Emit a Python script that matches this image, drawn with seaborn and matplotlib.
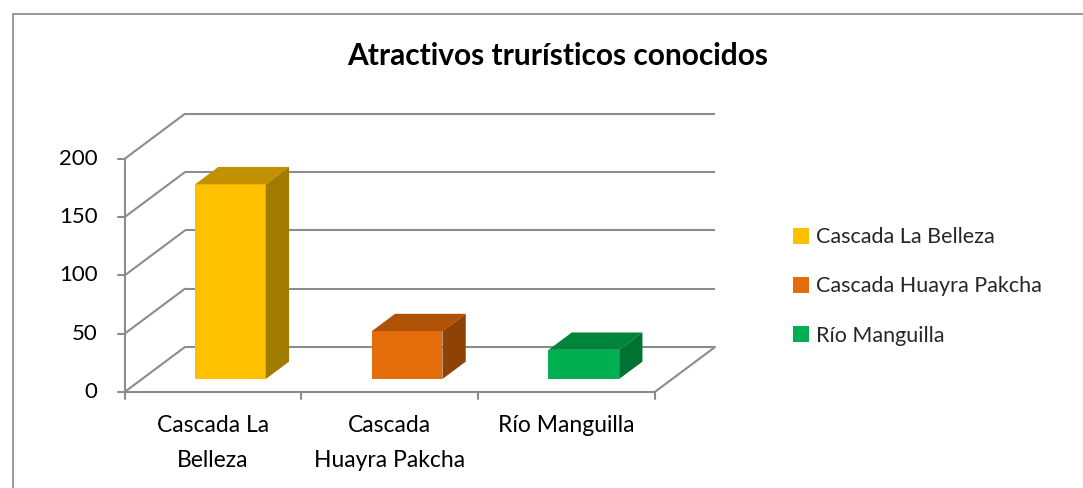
import matplotlib
matplotlib.use("Agg")
import matplotlib.pyplot as plt
from matplotlib.patches import Polygon, Patch, Rectangle
from matplotlib.transforms import Affine2D
import seaborn as sns
import pandas as pd

# Chart data
categories = ["Cascada La Belleza", "Cascada Huayra Pakcha", "Río Manguilla"]
tick_labels = ["Cascada La\nBelleza", "Cascada\nHuayra Pakcha", "Río Manguilla"]
values = [167, 41, 25]
y_ticks = [0, 50, 100, 150, 200]
title = "Atractivos trurísticos conocidos"

# Face colours: front, top (lit) and right side (shaded)
front_colors = ["#FFC000", "#E46C0A", "#00B050"]
top_colors = ["#C29100", "#B05205", "#00843C"]
side_colors = ["#A07B00", "#8F4205", "#007232"]

sns.set_theme(style="white")
plt.rcParams["font.family"] = ["Lato", "DejaVu Sans"]

W, H = 1083, 488
fig = plt.figure(figsize=(W / 100, H / 100), dpi=100)
ax = fig.add_axes([0, 0, 1, 1])

# Pixel geometry of the oblique projection
CAT_PX = 176.7          # pixels per category
VAL_PX = 58.3 / 50      # pixels per value unit
X0_PX = 213.0           # pixel x of first category centre (front plane)
Y0_PX = 392.0           # pixel y (from top) of value 0 on the front plane


def set_limits():
    ax.set_xlim((0 - X0_PX) / CAT_PX, (W - X0_PX) / CAT_PX)
    ax.set_ylim((Y0_PX - H) / VAL_PX, Y0_PX / VAL_PX)
    ax.axis("off")


set_limits()

DX = 60.3 / CAT_PX      # depth offset of the back wall, data units
DY = 45.0 / VAL_PX
F0, F1 = 0.289, 0.675   # bar front and back depth fractions
BW = 0.40               # bar width
GRID = "#8C8C8C"
LW = 1.5

left, right = -0.5, len(categories) - 0.5
ymax = y_ticks[-1]

# Back wall gridlines and left wall diagonals
for v in y_ticks:
    ax.plot([left + DX, right + DX], [v + DY, v + DY], color=GRID, lw=LW, zorder=1,
            solid_capstyle="butt")
    ax.plot([left, left + DX], [v, v + DY], color=GRID, lw=LW, zorder=1)
# Floor edges
ax.plot([left, right], [0, 0], color=GRID, lw=LW, zorder=1)
ax.plot([right, right + DX], [0, DY], color=GRID, lw=LW, zorder=1)
# Front value axis with ticks
ax.plot([left, left], [0, ymax], color=GRID, lw=LW, zorder=1)
tk = 7 / CAT_PX
for v in y_ticks:
    ax.plot([left - tk, left], [v, v], color=GRID, lw=LW, zorder=1)
    ax.text(left - 27 / CAT_PX, v, str(v), ha="right", va="center",
            fontsize=16, color="#000000")
# Category ticks and labels
for i in range(len(categories) + 1):
    ax.plot([left + i, left + i], [0, -7 / VAL_PX], color=GRID, lw=LW, zorder=1)
for i, lab in enumerate(tick_labels):
    ax.text(i, -23 / VAL_PX, lab, ha="center", va="top", fontsize=16.5,
            linespacing=1.8, color="#000000")

# Front faces of the bars
df = pd.DataFrame({"cat": categories, "val": values})
n_before = len(ax.patches)
sns.barplot(data=df, x="cat", y="val", hue="cat", palette=front_colors,
            width=BW, legend=False, ax=ax, saturation=1, zorder=3,
            order=categories, hue_order=categories)
set_limits()
shift = Affine2D().translate(F0 * DX, F0 * DY) + ax.transData
for p in ax.patches[n_before:]:
    p.set_transform(shift)
    p.set_edgecolor("none")

# Top and side faces
ox0, oy0 = F0 * DX, F0 * DY
ox1, oy1 = F1 * DX, F1 * DY
for i, v in enumerate(values):
    xl, xr = i - BW / 2, i + BW / 2
    top = Polygon([(xl + ox0, v + oy0), (xr + ox0, v + oy0),
                   (xr + ox1, v + oy1), (xl + ox1, v + oy1)],
                  closed=True, facecolor=top_colors[i], edgecolor="none", zorder=3)
    side = Polygon([(xr + ox0, oy0), (xr + ox1, oy1),
                    (xr + ox1, v + oy1), (xr + ox0, v + oy0)],
                   closed=True, facecolor=side_colors[i], edgecolor="none", zorder=3)
    ax.add_patch(top)
    ax.add_patch(side)

# Title
fig.text(558 / W, 1 - 56 / H, title, ha="center", va="center",
         fontsize=21.5, fontweight="bold", color="#000000")

# Legend
handles = [Patch(facecolor=c, edgecolor="none") for c in front_colors]
fig.legend(handles, categories, loc="center left",
           bbox_to_anchor=(784 / W, 1 - 286.5 / H), frameon=False,
           fontsize=15.5, handlelength=0.75, handleheight=0.75,
           handletextpad=0.35, labelspacing=1.35, borderaxespad=0)

# Chart border
fig.patches.append(Rectangle((13 / W, -0.1), 1.2, 1.1 - 14 / H,
                             transform=fig.transFigure, fill=False,
                             edgecolor="#878787", lw=1.2))

fig.savefig("out.png", dpi=100)
